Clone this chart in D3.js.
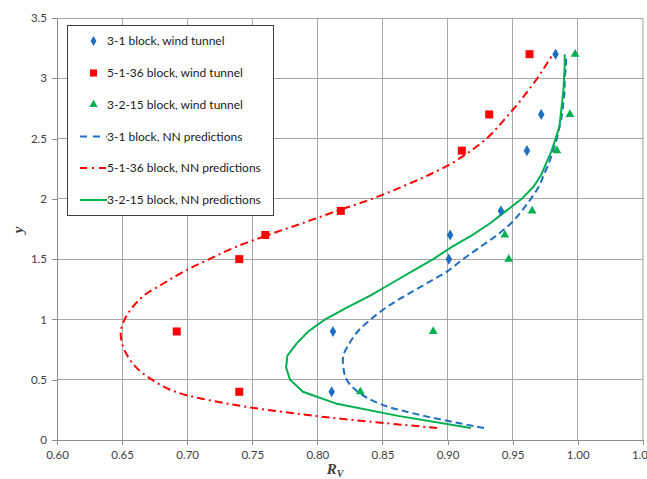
<!DOCTYPE html>
<html><head><meta charset="utf-8">
<script src="https://cdn.jsdelivr.net/npm/d3@7"></script>
<style>
body{margin:0;background:#fff;}
svg{display:block;}
</style></head>
<body>
<script>
// ---- data ----
const xTicks = [0.60,0.65,0.70,0.75,0.80,0.85,0.90,0.95,1.00,1.05];
const yTicks = [0,0.5,1,1.5,2,2.5,3,3.5];

const tunnelY = [3.2,2.7,2.4,1.9,1.7,1.5,0.9,0.4];
const tunnel31 = [0.983,0.972,0.961,0.941,0.902,0.901,0.812,0.811];
const tunnel5136 = [0.963,0.932,0.911,0.818,0.760,0.740,0.692,0.740];
const tunnel3215 = [0.998,0.994,0.984,0.965,0.944,0.947,0.889,0.833];

const nnY = [0.1,0.2,0.3,0.4,0.5,0.6,0.7,0.8,0.9,1.0,1.1,1.2,1.3,1.4,1.5,1.6,1.7,1.8,1.9,2.0,2.1,2.2,2.3,2.4,2.5,2.6,2.7,2.8,2.9,3.0,3.1,3.2];
const nn31 = [0.928,0.882,0.848,0.831,0.8225,0.820,0.820,0.8245,0.831,0.841,0.853,0.868,0.884,0.900,0.912,0.925,0.938,0.949,0.957,0.964,0.970,0.974,0.978,0.981,0.984,0.986,0.988,0.989,0.990,0.990,0.991,0.991];
const nn5136 = [0.892,0.798,0.732,0.691,0.673,0.661,0.654,0.650,0.649,0.652,0.658,0.667,0.682,0.698,0.717,0.737,0.762,0.789,0.815,0.842,0.865,0.886,0.904,0.918,0.930,0.939,0.947,0.955,0.962,0.969,0.975,0.981];
const nn3215 = [0.918,0.862,0.815,0.789,0.779,0.776,0.777,0.784,0.793,0.806,0.823,0.841,0.857,0.873,0.889,0.903,0.919,0.933,0.945,0.957,0.966,0.972,0.976,0.980,0.983,0.986,0.987,0.988,0.989,0.9895,0.990,0.990];

const legendLabels = ["3-1 block, wind tunnel","5-1-36 block, wind tunnel","3-2-15 block, wind tunnel","3-1 block, NN predictions","5-1-36 block, NN predictions","3-2-15 block, NN predictions"];

// ---- chart ----
const W=647,H=479;
const blue="#1F6FC0", red="#FF0000", green="#00B050";
const svg=d3.select("body").append("svg").attr("width",W).attr("height",H);
const x=d3.scaleLinear().domain([0.6,1.05]).range([57,642.8]);
const y=d3.scaleLinear().domain([0,3.5]).range([440,18]);
const font="Lato, 'Open Sans', sans-serif";

// grid
svg.append("g").selectAll("line").data(xTicks.slice(1)).join("line")
  .attr("x1",d=>x(d)).attr("x2",d=>x(d)).attr("y1",y(3.5)).attr("y2",y(0))
  .attr("stroke",d=>d===1.05?"#d0d0d0":"#a6a6a6").attr("stroke-width",d=>d===1.05?2:1)
  .attr("shape-rendering","crispEdges");
svg.append("g").selectAll("line").data(yTicks.slice(1)).join("line")
  .attr("x1",x(0.6)).attr("x2",x(1.05)).attr("y1",d=>y(d)).attr("y2",d=>y(d))
  .attr("stroke","#a6a6a6").attr("stroke-width",1).attr("shape-rendering","crispEdges");

// axes
const xAxis=svg.append("g").attr("transform",`translate(0,${y(0)})`)
  .call(d3.axisBottom(x).tickValues(xTicks).tickFormat(d3.format(".2f")).tickSize(5).tickPadding(6));
const yAxis=svg.append("g").attr("transform",`translate(${x(0.6)},0)`)
  .call(d3.axisLeft(y).tickValues(yTicks).tickFormat(d=>String(d)).tickSize(5).tickPadding(5));
[xAxis,yAxis].forEach(a=>{
  a.select(".domain").attr("stroke","#8c8c8c").attr("shape-rendering","crispEdges");
  a.selectAll(".tick line").attr("stroke","#8c8c8c").attr("shape-rendering","crispEdges");
  a.selectAll("text").attr("font-family",font).attr("font-size",11.5).attr("fill","#404040");
});

// axis titles
const xt=svg.append("text").attr("x",335).attr("y",474).attr("text-anchor","middle")
  .attr("font-family","'Liberation Serif', serif").attr("font-weight","bold").attr("font-style","italic").attr("font-size",15).attr("fill","#404040");
xt.append("tspan").text("R");
xt.append("tspan").attr("font-size",10).attr("dy",3).text("V");
svg.append("text").attr("transform","translate(23,230) rotate(-90)").attr("text-anchor","middle")
  .attr("font-family","'Liberation Serif', serif").attr("font-weight","bold").attr("font-style","italic").attr("font-size",15).attr("fill","#404040").text("y");

// NN lines
const line=(xs,curve)=>d3.line().x((d,i)=>x(xs[i])).y(d=>y(d)).curve(curve);
svg.append("path").attr("d",line(nn5136,d3.curveCatmullRom)(nnY)).attr("fill","none").attr("stroke",red).attr("stroke-width",2).attr("stroke-dasharray","8,4,2,4");
svg.append("path").attr("d",line(nn31,d3.curveCatmullRom)(nnY)).attr("fill","none").attr("stroke",blue).attr("stroke-width",2).attr("stroke-dasharray","7,4");
svg.append("path").attr("d",line(nn3215,d3.curveLinear)(nnY)).attr("fill","none").attr("stroke",green).attr("stroke-width",2);

// markers
const sym=(type,size)=>d3.symbol().type(type).size(size);
svg.append("g").selectAll("path").data(tunnelY).join("path")
  .attr("transform",(d,i)=>`translate(${x(tunnel5136[i])},${y(d)})`).attr("d",sym(d3.symbolSquare,64)).attr("fill",red);
svg.append("g").selectAll("path").data(tunnelY).join("path")
  .attr("transform",(d,i)=>`translate(${x(tunnel31[i])},${y(d)})`).attr("d",sym(d3.symbolDiamond,36)).attr("fill",blue);
svg.append("g").selectAll("path").data(tunnelY).join("path")
  .attr("transform",(d,i)=>`translate(${x(tunnel3215[i])},${y(d)})`).attr("d",sym(d3.symbolTriangle,34)).attr("fill",green);

// legend
const lg=svg.append("g");
lg.append("rect").attr("x",67.5).attr("y",25.5).attr("width",206).attr("height",190).attr("fill","#fff").attr("stroke","#404040").attr("stroke-width",1);
const ly=[41,73,104.5,136.5,168,200];
lg.selectAll("text").data(legendLabels).join("text").attr("x",107).attr("y",(d,i)=>ly[i]+4)
  .attr("font-family",font).attr("font-size",12).attr("fill","#1a1a1a").text(d=>d);
lg.append("path").attr("transform",`translate(93.5,${ly[0]})`).attr("d",sym(d3.symbolDiamond,30)).attr("fill",blue);
lg.append("path").attr("transform",`translate(93.5,${ly[1]})`).attr("d",sym(d3.symbolSquare,50)).attr("fill",red);
lg.append("path").attr("transform",`translate(93.5,${ly[2]})`).attr("d",sym(d3.symbolTriangle,30)).attr("fill",green);
lg.append("line").attr("x1",80).attr("x2",107).attr("y1",ly[3]).attr("y2",ly[3]).attr("stroke",blue).attr("stroke-width",2).attr("stroke-dasharray","7,6");
lg.append("line").attr("x1",80).attr("x2",107).attr("y1",ly[4]).attr("y2",ly[4]).attr("stroke",red).attr("stroke-width",2).attr("stroke-dasharray","7,5,2,5");
lg.append("line").attr("x1",80).attr("x2",107).attr("y1",ly[5]).attr("y2",ly[5]).attr("stroke",green).attr("stroke-width",2);
</script>
</body></html>
